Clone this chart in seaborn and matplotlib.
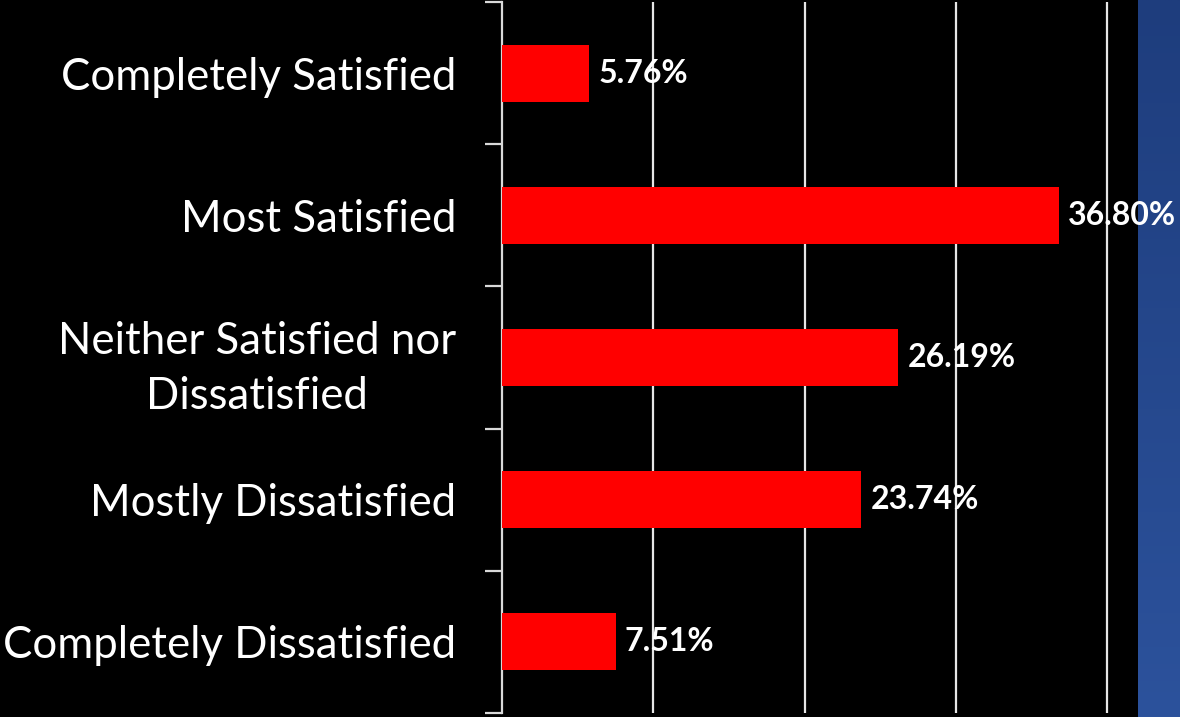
import numpy as np
import pandas as pd
import seaborn as sns
import matplotlib.pyplot as plt
from matplotlib.colors import LinearSegmentedColormap

# veriler
kategoriler = ["Completely Satisfied", "Most Satisfied", "Neither Satisfied nor\nDissatisfied",
               "Mostly Dissatisfied", "Completely Dissatisfied"]
yuzdeler = [5.76, 36.80, 26.19, 23.74, 7.51]
etiketler = ["5.76%", "36.80%", "26.19%", "23.74%", "7.51%"]

veri = pd.DataFrame({"kategori": kategoriler, "yuzde": yuzdeler})

sns.set_style("dark")
plt.rcParams["font.family"] = ["Lato", "DejaVu Sans"]

fig = plt.figure(figsize=(11.8, 7.17), dpi=100, facecolor="black")

# sagdaki mavi serit (gradyan)
bg = fig.add_axes([1138 / 1180, 0, 1 - 1138 / 1180, 1], zorder=-1)
cmap = LinearSegmentedColormap.from_list("mavi", ["#1e3d7d", "#2c529c"])
bg.imshow(np.linspace(0, 1, 256).reshape(-1, 1), aspect="auto", cmap=cmap)
bg.set_axis_off()

ax = fig.add_axes([502 / 1180, 4 / 717, 1 - 502 / 1180, 711 / 717], zorder=1)
ax.set_facecolor("none")

sns.barplot(data=veri, x="yuzde", y="kategori", orient="h", color="#ff0000",
            width=0.4, saturation=1, linewidth=0, ax=ax, zorder=3)

ax.set_xlim(0, 44.8)
ax.set_ylim(4.5, -0.5)
ax.set_xticks([10, 20, 30, 40])
ax.set_xticklabels([])
ax.tick_params(axis="x", length=0)
ax.grid(axis="x", color="#e6e6e6", linewidth=1.6, zorder=1)
ax.grid(axis="y", visible=False)

# kategori sinirlarinda tick
ax.set_yticks(np.arange(-0.5, 5, 1), minor=True)
ax.tick_params(axis="y", which="minor", left=True, length=12, width=1.6, color="#d9d9d9", direction="out")
ax.tick_params(axis="y", which="major", left=True, length=0, pad=33, labelsize=31.5, labelcolor="white")
for lbl in ax.get_yticklabels():
    lbl.set_multialignment("center")
    lbl.set_linespacing(1.45)

for s in ["top", "right", "bottom"]:
    ax.spines[s].set_visible(False)
ax.spines["left"].set_color("#d9d9d9")
ax.spines["left"].set_linewidth(1.6)

ax.set_xlabel("")
ax.set_ylabel("")

for i, (v, e) in enumerate(zip(yuzdeler, etiketler)):
    ax.text(v + 0.6, i, e, va="center", ha="left", color="white",
            fontsize=23, fontweight="bold", zorder=4, clip_on=False)

fig.savefig("out.png", dpi=100, facecolor="black")
